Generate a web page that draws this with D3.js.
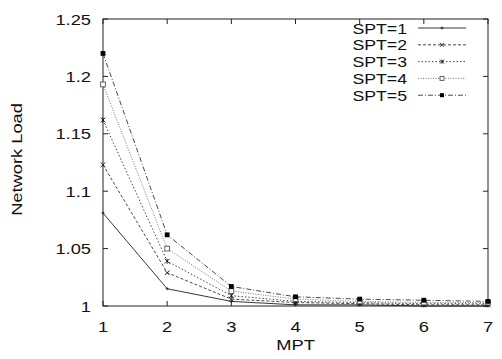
<!DOCTYPE html>
<html>
<head>
<meta charset="utf-8">
<script src="https://cdn.jsdelivr.net/npm/d3@7"></script>
<style>
  body { margin: 0; background: #fff; }
  svg text { font-family: "Liberation Sans", Arial, sans-serif; fill: #111; }
</style>
</head>
<body>
<svg id="chart"></svg>
<script>
var mpt = [1, 2, 3, 4, 5, 6, 7];
var seriesNames = ["SPT=1", "SPT=2", "SPT=3", "SPT=4", "SPT=5"];
var spt1 = [1.081, 1.015, 1.004, 1.001, 1.001, 1.000, 1.000];
var spt2 = [1.123, 1.029, 1.006, 1.003, 1.002, 1.001, 1.001];
var spt3 = [1.162, 1.039, 1.009, 1.004, 1.003, 1.002, 1.002];
var spt4 = [1.193, 1.050, 1.013, 1.006, 1.004, 1.003, 1.003];
var spt5 = [1.220, 1.062, 1.017, 1.008, 1.006, 1.005, 1.004];
var yTicks = [1, 1.05, 1.1, 1.15, 1.2, 1.25];

var allSeries = [spt1, spt2, spt3, spt4, spt5];
var dashes = ["none", "3,2", "1.5,2", "1,1.5", "5,2,1,2"];
var strokes = ["#222", "#333", "#333", "#666", "#333"];

var W = 502, H = 359;
var margin = {top: 19, right: 14, bottom: 53, left: 103},
    width = W - margin.left - margin.right,
    height = H - margin.top - margin.bottom;
var sx = 1.18; // lettering is a bit wide in the original

var svg = d3.select("#chart").attr("width", W).attr("height", H)
  .append("g")
  .attr("transform", "translate(" + margin.left + "," + margin.top + ")");

var x = d3.scaleLinear().domain([1, 7]).range([0, width]);
var y = d3.scaleLinear().domain([1, 1.25]).range([height, 0]);

// frame
svg.append("rect")
  .attr("width", width).attr("height", height)
  .attr("fill", "none").attr("stroke", "#222").attr("stroke-width", 1);

// inward ticks on all sides
var tl = 5;
mpt.forEach(function(v) {
  svg.append("line").attr("x1", x(v)).attr("x2", x(v)).attr("y1", height).attr("y2", height - tl).attr("stroke", "#222");
  svg.append("line").attr("x1", x(v)).attr("x2", x(v)).attr("y1", 0).attr("y2", tl).attr("stroke", "#222");
  svg.append("text")
    .attr("transform", "translate(" + x(v) + "," + (height + 26) + ") scale(" + sx + ",1)")
    .attr("text-anchor", "middle").style("font-size", "15.5px").text(v);
});
yTicks.forEach(function(v) {
  svg.append("line").attr("x1", 0).attr("x2", tl).attr("y1", y(v)).attr("y2", y(v)).attr("stroke", "#222");
  svg.append("line").attr("x1", width).attr("x2", width - tl).attr("y1", y(v)).attr("y2", y(v)).attr("stroke", "#222");
  svg.append("text")
    .attr("transform", "translate(-12," + (y(v) + 5.5) + ") scale(" + sx + ",1)")
    .attr("text-anchor", "end").style("font-size", "15.5px").text(v);
});

// axis titles
svg.append("text")
  .attr("transform", "translate(" + (width / 2) + "," + (height + 44) + ") scale(" + sx + ",1)")
  .attr("text-anchor", "middle").style("font-size", "15.5px").text("MPT");
svg.append("text")
  .attr("transform", "translate(" + (-81) + "," + (height / 2 - 3) + ") rotate(-90) scale(" + sx + ",1)")
  .attr("text-anchor", "middle").style("font-size", "15.5px").text("Network Load");

// point symbols, one kind per series
function marker(g, i, cx, cy, s) {
  if (i == 0) {
    g.append("path").attr("d", "M" + (cx - 1.5) + "," + cy + "h3M" + cx + "," + (cy - 1.5) + "v3")
      .attr("stroke", "#111").attr("stroke-width", 0.8);
  } else if (i == 1) {
    g.append("path").attr("d", "M" + (cx - s) + "," + (cy - s) + "L" + (cx + s) + "," + (cy + s) + "M" + (cx - s) + "," + (cy + s) + "L" + (cx + s) + "," + (cy - s))
      .attr("stroke", "#111").attr("stroke-width", 0.9);
  } else if (i == 2) {
    g.append("path").attr("d", "M" + (cx - s) + "," + (cy - s) + "L" + (cx + s) + "," + (cy + s) + "M" + (cx - s) + "," + (cy + s) + "L" + (cx + s) + "," + (cy - s) + "M" + cx + "," + (cy - s) + "v" + (2 * s))
      .attr("stroke", "#111").attr("stroke-width", 0.9);
  } else if (i == 3) {
    g.append("rect").attr("x", cx - s).attr("y", cy - s).attr("width", 2 * s).attr("height", 2 * s)
      .attr("fill", "#fff").attr("stroke", "#555").attr("stroke-width", 0.9);
  } else {
    g.append("rect").attr("x", cx - s).attr("y", cy - s).attr("width", 2 * s).attr("height", 2 * s).attr("fill", "#000");
  }
}

var line = d3.line()
  .x(function(d, i) { return x(mpt[i]); })
  .y(function(d) { return y(d); });

allSeries.forEach(function(vals, i) {
  var g = svg.append("g");
  g.append("path")
    .datum(vals)
    .attr("d", line)
    .attr("fill", "none")
    .attr("stroke", strokes[i])
    .attr("stroke-width", 0.9)
    .attr("stroke-dasharray", dashes[i]);
  vals.forEach(function(v, j) { marker(g, i, x(mpt[j]), y(v), 2.4); });
});

// legend
var leg = svg.append("g");
seriesNames.forEach(function(name, i) {
  var ly = 9 + i * 16.8;
  leg.append("text")
    .attr("transform", "translate(" + (407 - margin.left) + "," + (ly + 5.5) + ") scale(" + sx + ",1)")
    .attr("text-anchor", "end").style("font-size", "15px").text(name);
  leg.append("line")
    .attr("x1", 418 - margin.left).attr("x2", 466 - margin.left)
    .attr("y1", ly).attr("y2", ly)
    .attr("stroke", strokes[i]).attr("stroke-width", 0.9)
    .attr("stroke-dasharray", dashes[i]);
  marker(leg, i, 442 - margin.left, ly, 2);
});
</script>
</body>
</html>
